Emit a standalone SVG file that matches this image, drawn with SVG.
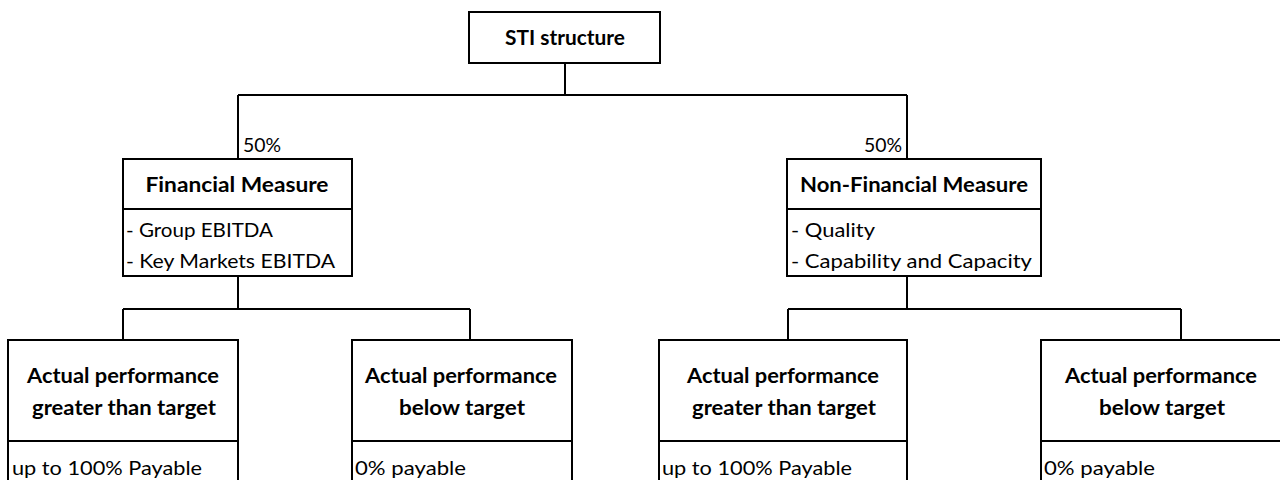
<svg xmlns="http://www.w3.org/2000/svg" width="1280" height="480" viewBox="0 0 1280 480">
<style>
.box{fill:#fff;stroke:#000;stroke-width:2}
.ln{fill:none;stroke:#000;stroke-width:2}
.b{font-family:Lato,"Liberation Sans",sans-serif;font-weight:bold;font-size:20px;fill:#000;text-anchor:middle}
.r{font-family:Lato,"Liberation Sans",sans-serif;font-size:20px;fill:#000}
</style>
<rect width="1280" height="480" fill="#fff"/>
<g id="connectors">
<path class="ln" d="M565 63V95M238 95H907M238 95V159M907 95V159"/>
<path class="ln" d="M238 276V309M123 309H470M123 309V340M470 309V340"/>
<path class="ln" d="M907 276V309M788 309H1181M788 309V340M1181 309V340"/>
<text class="r" x="243" y="152" textLength="38" lengthAdjust="spacingAndGlyphs">50%</text>
<text class="r" x="864" y="152" textLength="38" lengthAdjust="spacingAndGlyphs">50%</text>
</g>
<g id="sti">
<rect class="box" x="469" y="12" width="191" height="51"/>
<text class="b" x="565" y="45" textLength="120" lengthAdjust="spacingAndGlyphs">STI structure</text>
</g>
<g id="financial">
<rect class="box" x="123" y="159" width="229" height="117"/>
<line class="ln" x1="123" y1="209" x2="352" y2="209"/>
<text class="b" x="237" y="192" textLength="183" lengthAdjust="spacingAndGlyphs">Financial Measure</text>
<text class="r" x="126" y="237" textLength="147" lengthAdjust="spacingAndGlyphs">- Group EBITDA</text>
<text class="r" x="126" y="268" textLength="209" lengthAdjust="spacingAndGlyphs">- Key Markets EBITDA</text>
</g>
<g id="nonfinancial">
<rect class="box" x="787" y="159" width="254" height="117"/>
<line class="ln" x1="787" y1="209" x2="1041" y2="209"/>
<text class="b" x="914" y="192" textLength="228" lengthAdjust="spacingAndGlyphs">Non-Financial Measure</text>
<text class="r" x="791" y="237" textLength="84" lengthAdjust="spacingAndGlyphs">- Quality</text>
<text class="r" x="791" y="268" textLength="241" lengthAdjust="spacingAndGlyphs">- Capability and Capacity</text>
</g>
<g id="fin-above">
<rect class="box" x="8" y="340" width="230" height="170"/>
<line class="ln" x1="8" y1="441" x2="238" y2="441"/>
<text class="b" x="123" y="383" textLength="192" lengthAdjust="spacingAndGlyphs">Actual performance</text>
<text class="b" x="124" y="415" textLength="184" lengthAdjust="spacingAndGlyphs">greater than target</text>
<text class="r" x="12" y="475" textLength="190" lengthAdjust="spacingAndGlyphs">up to 100% Payable</text>
</g>
<g id="fin-below">
<rect class="box" x="352" y="340" width="220" height="170"/>
<line class="ln" x1="352" y1="441" x2="572" y2="441"/>
<text class="b" x="461" y="383" textLength="192" lengthAdjust="spacingAndGlyphs">Actual performance</text>
<text class="b" x="462" y="415" textLength="126" lengthAdjust="spacingAndGlyphs">below target</text>
<text class="r" x="355" y="475" textLength="111" lengthAdjust="spacingAndGlyphs">0% payable</text>
</g>
<g id="nonfin-above">
<rect class="box" x="659" y="340" width="248" height="170"/>
<line class="ln" x1="659" y1="441" x2="907" y2="441"/>
<text class="b" x="783" y="383" textLength="192" lengthAdjust="spacingAndGlyphs">Actual performance</text>
<text class="b" x="784" y="415" textLength="184" lengthAdjust="spacingAndGlyphs">greater than target</text>
<text class="r" x="662" y="475" textLength="190" lengthAdjust="spacingAndGlyphs">up to 100% Payable</text>
</g>
<g id="nonfin-below">
<rect class="box" x="1041" y="340" width="260" height="170"/>
<line class="ln" x1="1041" y1="441" x2="1290" y2="441"/>
<text class="b" x="1161" y="383" textLength="192" lengthAdjust="spacingAndGlyphs">Actual performance</text>
<text class="b" x="1162" y="415" textLength="126" lengthAdjust="spacingAndGlyphs">below target</text>
<text class="r" x="1044" y="475" textLength="111" lengthAdjust="spacingAndGlyphs">0% payable</text>
</g>
</svg>
